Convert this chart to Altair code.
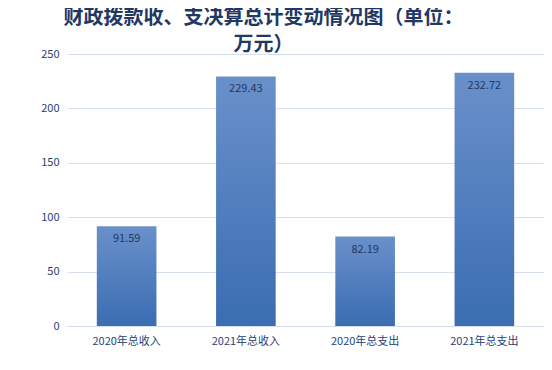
import altair as alt
import pandas as pd

categories = ["2020年总收入", "2021年总收入", "2020年总支出", "2021年总支出"]
values = [91.59, 229.43, 82.19, 232.72]
y_ticks = [0, 50, 100, 150, 200, 250]

df = pd.DataFrame({"cat": categories, "val": values})

grad = alt.Gradient(
    gradient="linear",
    stops=[alt.GradientStop(color="#6A90CA", offset=0),
           alt.GradientStop(color="#3A6DB2", offset=1)],
    x1=0, x2=0, y1=0, y2=1,
)

base = alt.Chart(df).encode(
    x=alt.X("cat:N", sort=categories, title=None,
            scale=alt.Scale(paddingInner=0.5, paddingOuter=0.25),
            axis=alt.Axis(labelAngle=0, labelFontSize=11, labelColor="#1F3F77",
                          labelFont="Noto Sans CJK SC", domainColor="#D5DFEF",
                          ticks=False, labelPadding=9, grid=False)),
    y=alt.Y("val:Q", title=None,
            scale=alt.Scale(domain=[0, 250]),
            axis=alt.Axis(values=y_ticks, labelFontSize=11, labelColor="#1F3F77",
                          labelFont="Noto Sans CJK SC", domain=False, ticks=False,
                          gridColor="#D5DFEF", labelPadding=8)),
)

bars = base.mark_bar(color=grad)
text = base.mark_text(baseline="top", dy=7, fontSize=11, color="#1F3864",
                      font="Noto Sans CJK SC").encode(text=alt.Text("val:Q", format=".2f"))

chart = (bars + text).properties(
    width=477, height=272,
    title=alt.TitleParams(
        text=["财政拨款收、支决算总计变动情况图（单位：", "万元）"],
        fontSize=20, font="Noto Sans CJK SC", fontWeight="bold", color="#1F3864",
        anchor="middle", dx=-42, offset=-7, lineHeight=27,
    ),
    padding={"left": 59, "top": 46, "right": 0, "bottom": 35},
    autosize=alt.AutoSizeParams(type="none"),
).configure_view(stroke=None)

chart.save("out.html", embed_options={"renderer": "svg", "actions": False})
